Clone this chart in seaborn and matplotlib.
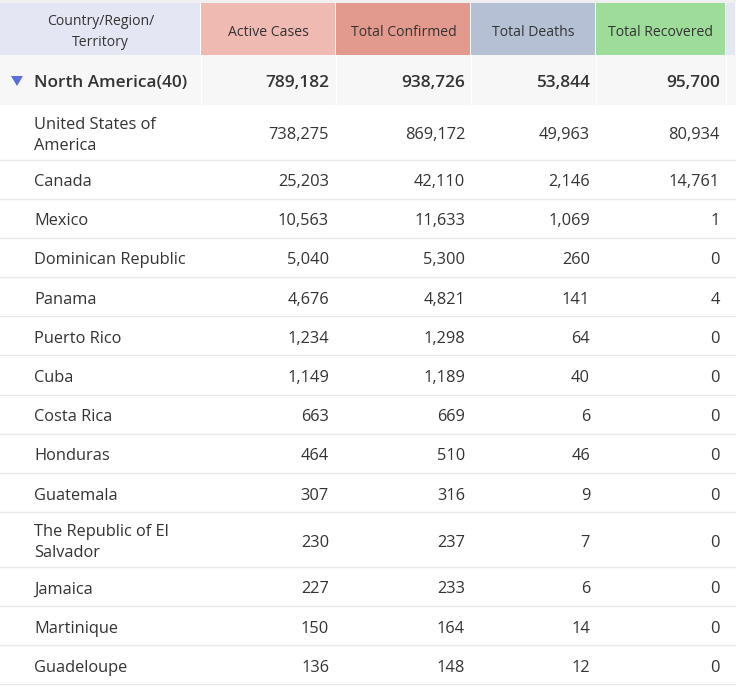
import numpy as np
import pandas as pd
import matplotlib
matplotlib.use("Agg")
import matplotlib.pyplot as plt
from matplotlib.patches import Rectangle, Polygon
import seaborn as sns

# datos de la tabla
headers = ["Country/Region/\nTerritory", "Active Cases", "Total Confirmed", "Total Deaths", "Total Recovered"]
region = "North America(40)"
region_totals = [789182, 938726, 53844, 95700]
countries = ["United States of\nAmerica", "Canada", "Mexico", "Dominican Republic", "Panama",
             "Puerto Rico", "Cuba", "Costa Rica", "Honduras", "Guatemala",
             "The Republic of El\nSalvador", "Jamaica", "Martinique", "Guadeloupe"]
active = [738275, 25203, 10563, 5040, 4676, 1234, 1149, 663, 464, 307, 230, 227, 150, 136]
confirmed = [869172, 42110, 11633, 5300, 4821, 1298, 1189, 669, 510, 316, 237, 233, 164, 148]
deaths = [49963, 2146, 1069, 260, 141, 64, 40, 6, 46, 9, 7, 6, 14, 12]
recovered = [80934, 14761, 1, 0, 4, 0, 0, 0, 0, 0, 0, 0, 0, 0]

df = pd.DataFrame({"country": countries, "active": active, "confirmed": confirmed,
                   "deaths": deaths, "recovered": recovered})

sns.set_theme(style="white")
plt.rcParams['font.family'] = ['Open Sans', 'DejaVu Sans']

W, H = 736, 687
col_edges = [0, 201, 336, 471, 596, 726, 736]
header_colors = ["#e4e6f3", "#eebab2", "#e29a8e", "#b6c0d4", "#9ddc99", "#e4e6f3"]
txt = "#333333"
dy = 3  # ajuste vertical del texto

fig = plt.figure(figsize=(W / 100, H / 100), dpi=100)
ax = fig.add_axes([0, 0, 1, 1])
ax.set_xlim(0, W)
ax.set_ylim(H, 0)
ax.axis("off")

# cabecera
ax.add_patch(Rectangle((0, 0), W, 3, color="#f0f0f0", lw=0))
for i in range(6):
    x0, x1 = col_edges[i], col_edges[i + 1]
    ax.add_patch(Rectangle((x0, 3), x1 - x0 - 1, 52, color=header_colors[i], lw=0))
for i, h in enumerate(headers):
    xc = (col_edges[i] + col_edges[i + 1]) / 2
    ax.text(xc, 29 + dy, h, ha="center", va="center", fontsize=10.1, color=txt, linespacing=1.5)

# fila de la región
ax.add_patch(Rectangle((0, 55), W, 50, color="#f7f7f7", lw=0))
for x in col_edges[1:-1]:
    ax.plot([x, x], [55, 105], color="white", lw=1)
ax.add_patch(Polygon([[11, 76], [23, 76], [17, 86]], closed=True, color="#5a6ee0", lw=0))
ax.text(34, 80 + dy, region, ha="left", va="center", fontsize=12.4, fontweight="semibold", color=txt)
right_x = [329, 465, 590, 720]
for v, x in zip(region_totals, right_x):
    ax.text(x, 80 + dy, f"{v:,}", ha="right", va="center", fontsize=12.4, fontweight="semibold", color=txt)

# filas de países
y = 105
for _, row in df.iterrows():
    h = 54.5 if "\n" in row["country"] else 39.2
    yc = y + h / 2 + dy
    ax.text(34, yc, row["country"], ha="left", va="center", fontsize=11.8, color=txt, linespacing=1.4)
    for col, x in zip(["active", "confirmed", "deaths", "recovered"], right_x):
        ax.text(x, yc, f"{row[col]:,}", ha="right", va="center", fontsize=11.8, color=txt)
    y += h
    ax.plot([0, W], [y, y], color="#e8e8e8", lw=1)

fig.savefig("out.png", dpi=100, facecolor="white")
